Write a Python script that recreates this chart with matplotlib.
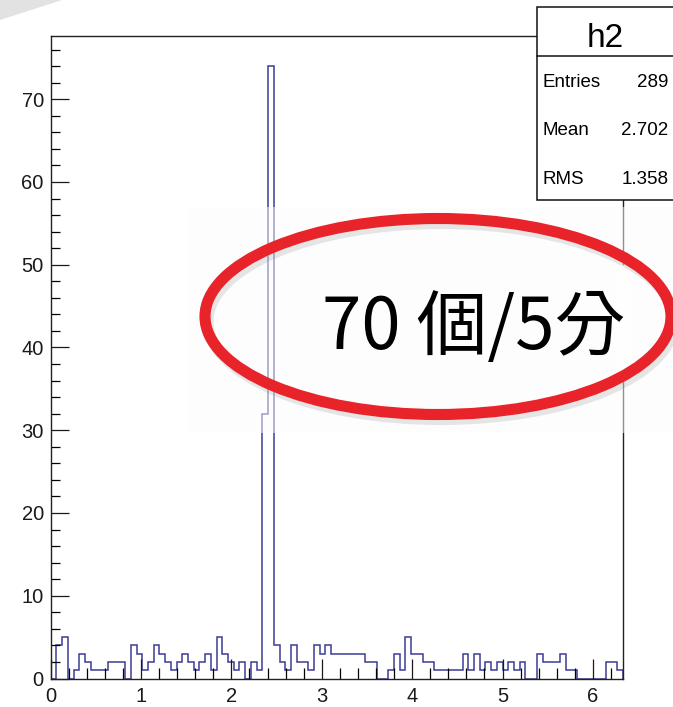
import numpy as np
import matplotlib.pyplot as plt
from matplotlib.patches import Rectangle, Ellipse, Polygon

# canvas size in pixels
W, H = 673, 707

# h2: 100 bins between 0 and 6.33
x_min, x_max = 0.0, 6.33
counts = [0, 4, 5, 0, 1, 3, 2, 1, 1, 1,
          2, 2, 2, 0, 4, 3, 1, 2, 4, 3,
          2, 1, 2, 3, 2, 1, 2, 3, 1, 5,
          3, 2, 1, 2, 0, 2, 1, 32, 74, 4,
          2, 1, 4, 2, 2, 1, 4, 3, 4, 3,
          3, 3, 3, 3, 3, 2, 2, 0, 0, 1,
          3, 1, 5, 3, 3, 2, 2, 1, 1, 1,
          1, 1, 3, 1, 3, 1, 2, 1, 2, 1,
          2, 1, 2, 0, 0, 3, 2, 2, 2, 3,
          1, 1, 0, 0, 0, 0, 0, 2, 2, 1]

# stats box contents
hist_name = 'h2'
stat_names = ['Entries', 'Mean', 'RMS']
stat_values = ['289', '2.702', '1.358']

note = '70 個/5分'

plt.rcParams['font.family'] = ['Liberation Sans', 'DejaVu Sans']


def fx(x):
    return x / W


def fy(y):
    return 1 - y / H


fig = plt.figure(figsize=(W / 100, H / 100), dpi=100)

ax = fig.add_axes([fx(50.7), fy(678.5), (622.7 - 50.7) / W, (678.5 - 35.5) / H])
edges = np.linspace(x_min, x_max, len(counts) + 1)
ax.stairs(counts, edges, color='#3c3c96', lw=1.1)
ax.set_xlim(x_min, x_max)
ax.set_ylim(0, 1.05 * max(counts))

ax.xaxis.set_major_locator(plt.MultipleLocator(1))
ax.xaxis.set_minor_locator(plt.MultipleLocator(0.2))
ax.yaxis.set_major_locator(plt.MultipleLocator(10))
ax.yaxis.set_minor_locator(plt.MultipleLocator(2))
ax.tick_params(axis='x', which='major', direction='in', length=14.5, width=0.9,
               labelsize=14.5, pad=6, colors='#1a1a1a', top=False)
ax.tick_params(axis='x', which='minor', direction='in', length=7.7, width=0.9, top=False)
ax.tick_params(axis='y', which='major', direction='in', length=12.7, width=0.9,
               labelsize=14.5, pad=5, colors='#1a1a1a', right=False)
ax.tick_params(axis='y', which='minor', direction='in', length=6.7, width=0.9, right=False)
for s in ax.spines.values():
    s.set_linewidth(1.0)
    s.set_color('#222222')

# slide corner
fig.patches.append(Polygon([(fx(0), fy(0)), (fx(62), fy(0)), (fx(0), fy(20))],
                           closed=True, transform=fig.transFigure,
                           facecolor='#e2e2e2', edgecolor='none'))

# stats box
fig.patches.append(Rectangle((fx(537), fy(200)), fx(690) - fx(537), fy(7.3) - fy(200),
                             transform=fig.transFigure, facecolor='white',
                             edgecolor='#111111', lw=1.1, zorder=5))
fig.lines.append(plt.Line2D([fx(537), fx(690)], [fy(56), fy(56)],
                            transform=fig.transFigure, color='#111111', lw=1.1, zorder=6))
fig.text(fx(605), fy(46.7), hist_name, fontsize=24, ha='center', va='baseline', zorder=7)
for name, val, base in zip(stat_names, stat_values, [87, 135, 183.5]):
    fig.text(fx(543), fy(base), name, fontsize=13.5, ha='left', va='baseline', zorder=7)
    fig.text(fx(668.5), fy(base), val, fontsize=13.5, ha='right', va='baseline', zorder=7)

# pasted annotation: light panel, red ellipse and text
fig.patches.append(Rectangle((fx(188), fy(433)), fx(690) - fx(188), fy(207) - fy(433),
                             transform=fig.transFigure, facecolor='#fdfdfc',
                             edgecolor='none', alpha=0.5, zorder=8))
fig.patches.append(Rectangle((fx(616), fy(375)), fx(630) - fx(616), fy(265) - fy(375),
                             transform=fig.transFigure, facecolor='#fefefd',
                             edgecolor='none', zorder=8))
cx, cy, rx, ry = 438, 316.5, 233, 98
fig.patches.append(Ellipse((fx(cx + 3), fy(cy + 5)), 2 * rx / W, 2 * ry / H,
                           transform=fig.transFigure, facecolor='none',
                           edgecolor='#888888', lw=8, alpha=0.2, zorder=9))
fig.patches.append(Ellipse((fx(cx), fy(cy)), 2 * rx / W, 2 * ry / H,
                           transform=fig.transFigure, facecolor='none',
                           edgecolor='#e8242a', lw=8, zorder=10))
fig.text(fx(474), fy(349.5), note, fontsize=51, ha='center', va='baseline',
         family=['Noto Sans CJK TC', 'DejaVu Sans'], color='black', zorder=11)

fig.savefig('out.png', dpi=100)
